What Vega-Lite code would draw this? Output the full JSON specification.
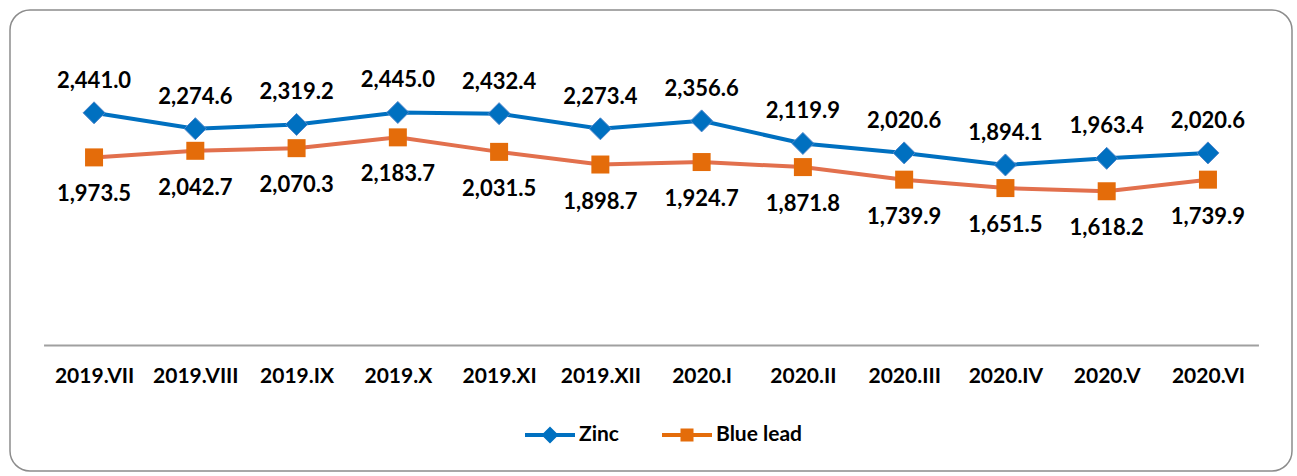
{
  "$schema": "https://vega.github.io/schema/vega-lite/v6.json",
  "width": 1282,
  "height": 461,
  "autosize": {"type": "none"},
  "padding": {"left": 10, "top": 10, "right": 5, "bottom": 5},
  "background": "white",
  "config": {
    "view": {"stroke": "#8C8C8C", "strokeWidth": 1.5, "cornerRadius": 20},
    "font": "Lato"
  },
  "datasets": {
    "baseline": [{"start": "2019.VII", "end": "2020.VI", "level": 0}]
  },
  "data": {
    "values": [
      {"period": "2019.VII", "series": "Zinc", "value": 2441.0},
      {"period": "2019.VIII", "series": "Zinc", "value": 2274.6},
      {"period": "2019.IX", "series": "Zinc", "value": 2319.2},
      {"period": "2019.X", "series": "Zinc", "value": 2445.0},
      {"period": "2019.XI", "series": "Zinc", "value": 2432.4},
      {"period": "2019.XII", "series": "Zinc", "value": 2273.4},
      {"period": "2020.I", "series": "Zinc", "value": 2356.6},
      {"period": "2020.II", "series": "Zinc", "value": 2119.9},
      {"period": "2020.III", "series": "Zinc", "value": 2020.6},
      {"period": "2020.IV", "series": "Zinc", "value": 1894.1},
      {"period": "2020.V", "series": "Zinc", "value": 1963.4},
      {"period": "2020.VI", "series": "Zinc", "value": 2020.6},
      {"period": "2019.VII", "series": "Blue lead", "value": 1973.5},
      {"period": "2019.VIII", "series": "Blue lead", "value": 2042.7},
      {"period": "2019.IX", "series": "Blue lead", "value": 2070.3},
      {"period": "2019.X", "series": "Blue lead", "value": 2183.7},
      {"period": "2019.XI", "series": "Blue lead", "value": 2031.5},
      {"period": "2019.XII", "series": "Blue lead", "value": 1898.7},
      {"period": "2020.I", "series": "Blue lead", "value": 1924.7},
      {"period": "2020.II", "series": "Blue lead", "value": 1871.8},
      {"period": "2020.III", "series": "Blue lead", "value": 1739.9},
      {"period": "2020.IV", "series": "Blue lead", "value": 1651.5},
      {"period": "2020.V", "series": "Blue lead", "value": 1618.2},
      {"period": "2020.VI", "series": "Blue lead", "value": 1739.9}
    ]
  },
  "layer": [
    {
      "data": {"name": "baseline"},
      "mark": {"type": "rule", "stroke": "#A0A0A0", "strokeWidth": 2, "xOffset": -50, "x2Offset": 51},
      "encoding": {
        "x": {"field": "start", "type": "ordinal"},
        "x2": {"field": "end"},
        "y": {"field": "level", "type": "quantitative"}
      }
    },
    {
      "mark": {"type": "line", "strokeWidth": 4},
      "encoding": {
        "x": {"field": "period", "type": "ordinal"},
        "y": {"field": "value", "type": "quantitative"},
        "color": {
          "field": "series", "type": "nominal",
          "scale": {"domain": ["Zinc", "Blue lead"], "range": ["#0070C0", "#E2704D"]},
          "legend": null
        }
      }
    },
    {
      "transform": [{"filter": "datum.series === 'Zinc'"}],
      "mark": {"type": "point", "shape": "diamond", "filled": true, "fill": "#0070C0", "stroke": "#4F87CC", "strokeWidth": 1, "size": 484, "opacity": 1},
      "encoding": {
        "x": {"field": "period", "type": "ordinal"},
        "y": {"field": "value", "type": "quantitative"}
      }
    },
    {
      "transform": [{"filter": "datum.series === 'Blue lead'"}],
      "mark": {"type": "point", "shape": "square", "filled": true, "fill": "#E46C0A", "size": 324, "opacity": 1},
      "encoding": {
        "x": {"field": "period", "type": "ordinal"},
        "y": {"field": "value", "type": "quantitative"}
      }
    },
    {
      "transform": [{"filter": "datum.series === 'Zinc'"}],
      "mark": {"type": "text", "dy": -32, "baseline": "middle", "font": "Lato", "fontSize": 22, "fontWeight": "bold", "color": "#000000"},
      "encoding": {
        "x": {"field": "period", "type": "ordinal"},
        "y": {"field": "value", "type": "quantitative"},
        "text": {"field": "value", "type": "quantitative", "format": ",.1f"}
      }
    },
    {
      "transform": [{"filter": "datum.series === 'Blue lead'"}],
      "mark": {"type": "text", "dy": 37, "baseline": "middle", "font": "Lato", "fontSize": 22, "fontWeight": "bold", "color": "#000000"},
      "encoding": {
        "x": {"field": "period", "type": "ordinal"},
        "y": {"field": "value", "type": "quantitative"},
        "text": {"field": "value", "type": "quantitative", "format": ",.1f"}
      }
    },
    {
      "mark": {"type": "point", "filled": true, "size": 0},
      "encoding": {
        "x": {"field": "period", "type": "ordinal"},
        "y": {"field": "value", "type": "quantitative"},
        "color": {
          "field": "series", "type": "nominal",
          "scale": {"domain": ["Zinc", "Blue lead"], "range": ["#0070C0", "#E46C0A"]},
          "legend": {
            "title": null, "orient": "none", "direction": "horizontal",
            "legendX": 515, "legendY": 400,
            "symbolSize": 2500, "symbolStrokeWidth": 0, "symbolOpacity": 1,
            "labelFont": "Lato", "labelFontSize": 21, "labelFontWeight": "bold", "labelColor": "#000000",
            "labelOffset": 4, "columnPadding": 43
          }
        },
        "shape": {
          "field": "series", "type": "nominal",
          "scale": {"domain": ["Zinc", "Blue lead"], "range": [
            "M-1,-0.08H1V0.08H-1Z M0,-0.34L0.34,0L0,0.34L-0.34,0Z",
            "M-1,-0.08H1V0.08H-1Z M-0.26,-0.26H0.26V0.26H-0.26Z"
          ]},
          "legend": {
            "title": null, "orient": "none", "direction": "horizontal",
            "legendX": 515, "legendY": 400,
            "symbolSize": 2500, "symbolStrokeWidth": 0, "symbolOpacity": 1,
            "labelFont": "Lato", "labelFontSize": 21, "labelFontWeight": "bold", "labelColor": "#000000",
            "labelOffset": 4, "columnPadding": 43
          }
        }
      }
    }
  ],
  "encoding": {
    "x": {
      "scale": {"type": "point", "padding": 0.83, "domain": ["2019.VII", "2019.VIII", "2019.IX", "2019.X", "2019.XI", "2019.XII", "2020.I", "2020.II", "2020.III", "2020.IV", "2020.V", "2020.VI"]},
      "axis": {
        "title": null, "orient": "bottom", "offset": -126, "domain": false, "ticks": false,
        "labelPadding": 20, "labelFont": "Lato", "labelFontSize": 21, "labelFontWeight": "bold",
        "labelColor": "#000000", "labelAngle": 0, "grid": false
      }
    },
    "y": {
      "scale": {"domain": [-1317, 3520], "nice": false, "zero": false},
      "axis": null
    }
  },
  "resolve": {"scale": {"color": "independent", "shape": "independent"}}
}
